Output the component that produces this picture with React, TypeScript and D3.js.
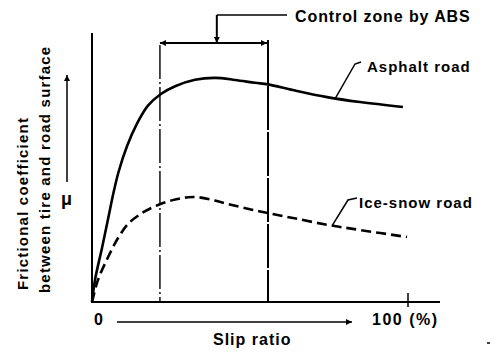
import React from "react";
import * as d3 from "d3";

// Slip ratio (%) and friction coefficient (relative)
const slipAsphalt = [0, 0.95, 3.2, 5.1, 6.8, 8.4, 11.1, 14.2, 17.7, 21.8, 26.3, 32.6, 38.9, 45.3, 51.6, 55.7, 63.6, 74.4, 84.8, 98.4];
const muAsphalt = [0, 0.085, 0.21, 0.32, 0.42, 0.5, 0.6, 0.685, 0.755, 0.8, 0.83, 0.855, 0.862, 0.854, 0.843, 0.837, 0.815, 0.788, 0.769, 0.75];
const slipIce = [0, 1.9, 5.1, 8.2, 11.4, 15.8, 20.9, 26.3, 30.4, 33.5, 38.9, 44.3, 50.6, 55.7, 63.6, 74.4, 84.8, 99.7];
const muIce = [0, 0.085, 0.173, 0.245, 0.3, 0.342, 0.373, 0.394, 0.403, 0.403, 0.39, 0.373, 0.355, 0.342, 0.323, 0.297, 0.277, 0.25];
const controlZone = [21.5, 55.7];
const zoneMarker = 39.5;
const xTickValues = [0, 100];
const xTickLabels = ["0", "100 (%)"];
const seriesLabels = ["Asphalt road", "Ice-snow road"];
const leaderSlip = [77, 76];

const FONT = "'Liberation Sans', Arial, Helvetica, sans-serif";

export default function App() {
  const x = d3.scaleLinear().domain([0, 100]).range([92, 408]);
  const y = d3.scaleLinear().domain([0, 1]).range([302, 42]);

  const asphalt = slipAsphalt.map((s, i) => [s, muAsphalt[i]] as [number, number]);
  const ice = slipIce.map((s, i) => [s, muIce[i]] as [number, number]);

  const line = d3
    .line<[number, number]>()
    .x((d) => x(d[0]))
    .y((d) => y(d[1]))
    .curve(d3.curveCatmullRom.alpha(0.5));

  const interp = (data: [number, number][], s: number) => {
    const xs = data.map((d) => d[0]);
    const ys = data.map((d) => d[1]);
    return d3.scaleLinear().domain(xs).range(ys)(s);
  };

  const zx0 = x(controlZone[0]);
  const zx1 = x(controlZone[1]);
  const mx = x(zoneMarker);

  const ax = x(leaderSlip[0]);
  const ay = y(interp(asphalt, leaderSlip[0]));
  const ix = x(leaderSlip[1]);
  const iy = y(interp(ice, leaderSlip[1]));

  const textStyle = {
    fontFamily: FONT,
    fontWeight: 700 as const,
    fill: "#000",
  };

  return (
    <svg
      width={496}
      height={352}
      style={{ position: "fixed", left: 0, top: 0, background: "#fff" }}
    >
      <defs>
        <marker id="ah" viewBox="0 0 10 10" refX="10" refY="5" markerWidth="8" markerHeight="6" markerUnits="userSpaceOnUse" orient="auto-start-reverse">
          <path d="M0,0 L10,5 L0,10 z" fill="#000" />
        </marker>
      </defs>
      <rect x={0} y={0} width={496} height={352} fill="#fff" />

      {/* axes */}
      <line x1={x(0)} y1={33} x2={x(0)} y2={y(0) + 1} stroke="#000" strokeWidth={2} />
      <line x1={x(0) - 1} y1={y(0)} x2={440} y2={y(0)} stroke="#000" strokeWidth={2} />
      <line x1={x(100)} y1={293} x2={x(100)} y2={307} stroke="#000" strokeWidth={1.5} />

      {/* control zone lines */}
      <line x1={zx0} y1={45} x2={zx0} y2={y(0)} stroke="#000" strokeWidth={1.4} strokeDasharray="34,3,2,3" />
      <line x1={zx1} y1={40} x2={zx1} y2={y(0)} stroke="#000" strokeWidth={2} strokeDasharray="44,2" />

      {/* double arrow */}
      <line x1={zx0} y1={43} x2={zx1 - 1} y2={43} stroke="#000" strokeWidth={2} markerStart="url(#ah)" markerEnd="url(#ah)" />
      {/* bracket to label */}
      <path d={`M${mx},15 L${mx},43`} fill="none" stroke="#000" strokeWidth={2} markerEnd="url(#ah)" />
      <path d={`M${mx},15 L287,15`} fill="none" stroke="#000" strokeWidth={1.5} />
      <text x={295} y={22} fontSize={16} letterSpacing={0.9} style={textStyle}>
        Control zone by ABS
      </text>

      {/* curves */}
      <path d={line(asphalt) || ""} fill="none" stroke="#000" strokeWidth={2.6} />
      <path d={line(ice) || ""} fill="none" stroke="#000" strokeWidth={2.6} strokeDasharray="10,5" />

      {/* leaders */}
      <path d={`M${ax},${ay} L355,64 L361,62`} fill="none" stroke="#000" strokeWidth={1.5} />
      <path d={`M${ix},${iy} L348,200 L357,198`} fill="none" stroke="#000" strokeWidth={1.5} />
      <text x={367} y={72} fontSize={15} letterSpacing={1} style={textStyle}>
        {seriesLabels[0]}
      </text>
      <text x={359} y={208} fontSize={15} letterSpacing={1} style={textStyle}>
        {seriesLabels[1]}
      </text>

      {/* x labels */}
      <text x={x(xTickValues[0]) + 2} y={325} fontSize={16} style={textStyle}>
        {xTickLabels[0]}
      </text>
      <text x={372} y={325} fontSize={16} letterSpacing={1.5} style={textStyle}>
        {xTickLabels[1]}
      </text>
      <line x1={117} y1={322} x2={352} y2={322} stroke="#000" strokeWidth={1.5} markerEnd="url(#ah)" />
      <text x={213} y={345} fontSize={16} letterSpacing={1} style={textStyle}>
        Slip ratio
      </text>

      {/* y labels */}
      <text transform="translate(28,290) rotate(-90)" fontSize={15} letterSpacing={1.2} style={textStyle}>
        Frictional coefficient
      </text>
      <text transform="translate(50,293) rotate(-90)" fontSize={15} letterSpacing={1.2} style={textStyle}>
        between tire and road surface
      </text>
      <line x1={67} y1={182} x2={67} y2={75} stroke="#000" strokeWidth={1.5} markerEnd="url(#ah)" />
      <text x={61} y={205} fontSize={18} style={textStyle}>
        μ
      </text>

      <line x1={487} y1={343} x2={490} y2={343} stroke="#000" strokeWidth={1.5} />
    </svg>
  );
}
